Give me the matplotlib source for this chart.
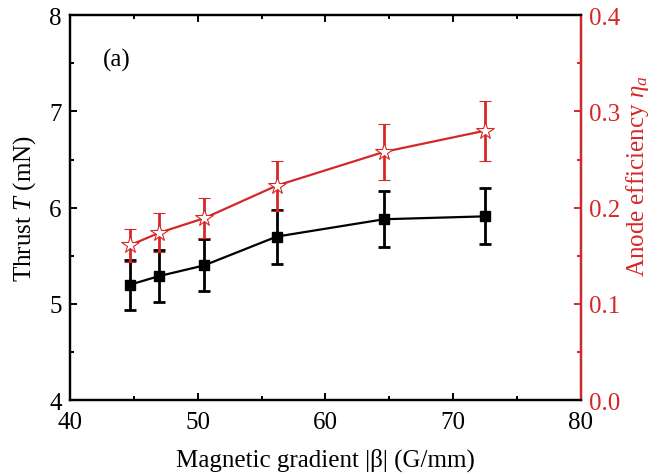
import matplotlib
matplotlib.use("Agg")
import matplotlib.pyplot as plt
from matplotlib.ticker import MultipleLocator, FormatStrFormatter

plt.rcParams['font.family'] = ['Liberation Serif', 'DejaVu Serif']
plt.rcParams['mathtext.fontset'] = 'custom'
plt.rcParams['mathtext.rm'] = 'Liberation Serif'
plt.rcParams['mathtext.it'] = 'Liberation Serif:italic'

gradient = [44.7, 47.0, 50.5, 56.2, 64.6, 72.5]
thrust = [5.20, 5.29, 5.40, 5.70, 5.88, 5.91]
thrust_err = [0.26, 0.27, 0.27, 0.28, 0.29, 0.29]
efficiency = [0.161, 0.174, 0.189, 0.223, 0.258, 0.280]
efficiency_err = [0.017, 0.020, 0.021, 0.026, 0.029, 0.031]

red = '#d62728'
fs = 18
fig = plt.figure(figsize=(6.54, 4.77), dpi=100)
ax = fig.add_axes([0.107, 0.159, 0.781, 0.807])
ax2 = ax.twinx()

ax.errorbar(gradient, thrust, yerr=thrust_err, color='black', marker='s',
            markersize=7, lw=1.6, elinewidth=2, capsize=4.5, capthick=2, zorder=3)
ax2.errorbar(gradient, efficiency, yerr=efficiency_err, color=red, marker='*',
             markersize=13, markerfacecolor='white', markeredgecolor=red,
             markeredgewidth=0.8, lw=1.6, elinewidth=2, capsize=4.5, capthick=2, zorder=3)

ax.set_xlim(40, 80)
ax.set_ylim(4, 8)
ax2.set_ylim(0.0, 0.4)
ax.xaxis.set_major_locator(MultipleLocator(10))
ax.xaxis.set_minor_locator(MultipleLocator(5))
ax.yaxis.set_major_locator(MultipleLocator(1))
ax.yaxis.set_minor_locator(MultipleLocator(0.5))
ax2.yaxis.set_major_locator(MultipleLocator(0.1))
ax2.yaxis.set_minor_locator(MultipleLocator(0.05))
ax2.yaxis.set_major_formatter(FormatStrFormatter('%.1f'))

for a in (ax, ax2):
    for s in a.spines.values():
        s.set_linewidth(1.6)
ax.tick_params(which='both', direction='in', top=True, right=False, labelsize=fs, width=1.4)
ax.tick_params(which='major', length=5)
ax.tick_params(which='minor', length=3)
ax.tick_params(axis='x', which='major', pad=8)
ax.tick_params(axis='y', which='major', pad=6)
ax2.spines['right'].set_color(red)
ax2.tick_params(which='both', direction='in', colors=red, labelsize=fs, width=1.4)
ax2.tick_params(which='major', length=5, pad=6)
ax2.tick_params(which='minor', length=3)

ax.set_xlabel(r'Magnetic gradient |β| (G/mm)', fontsize=fs, labelpad=10)
ax.set_ylabel(r'Thrust $T$ (mN)', fontsize=fs, labelpad=8)
ax2.set_ylabel(r'Anode efficiency $\eta_a$', fontsize=fs, color=red)
ax2.yaxis.set_label_coords(1.084, 0.585)
ax.text(42.6, 7.54, '(a)', fontsize=fs, va='center', ha='left')

fig.savefig('out.png', dpi=100)
